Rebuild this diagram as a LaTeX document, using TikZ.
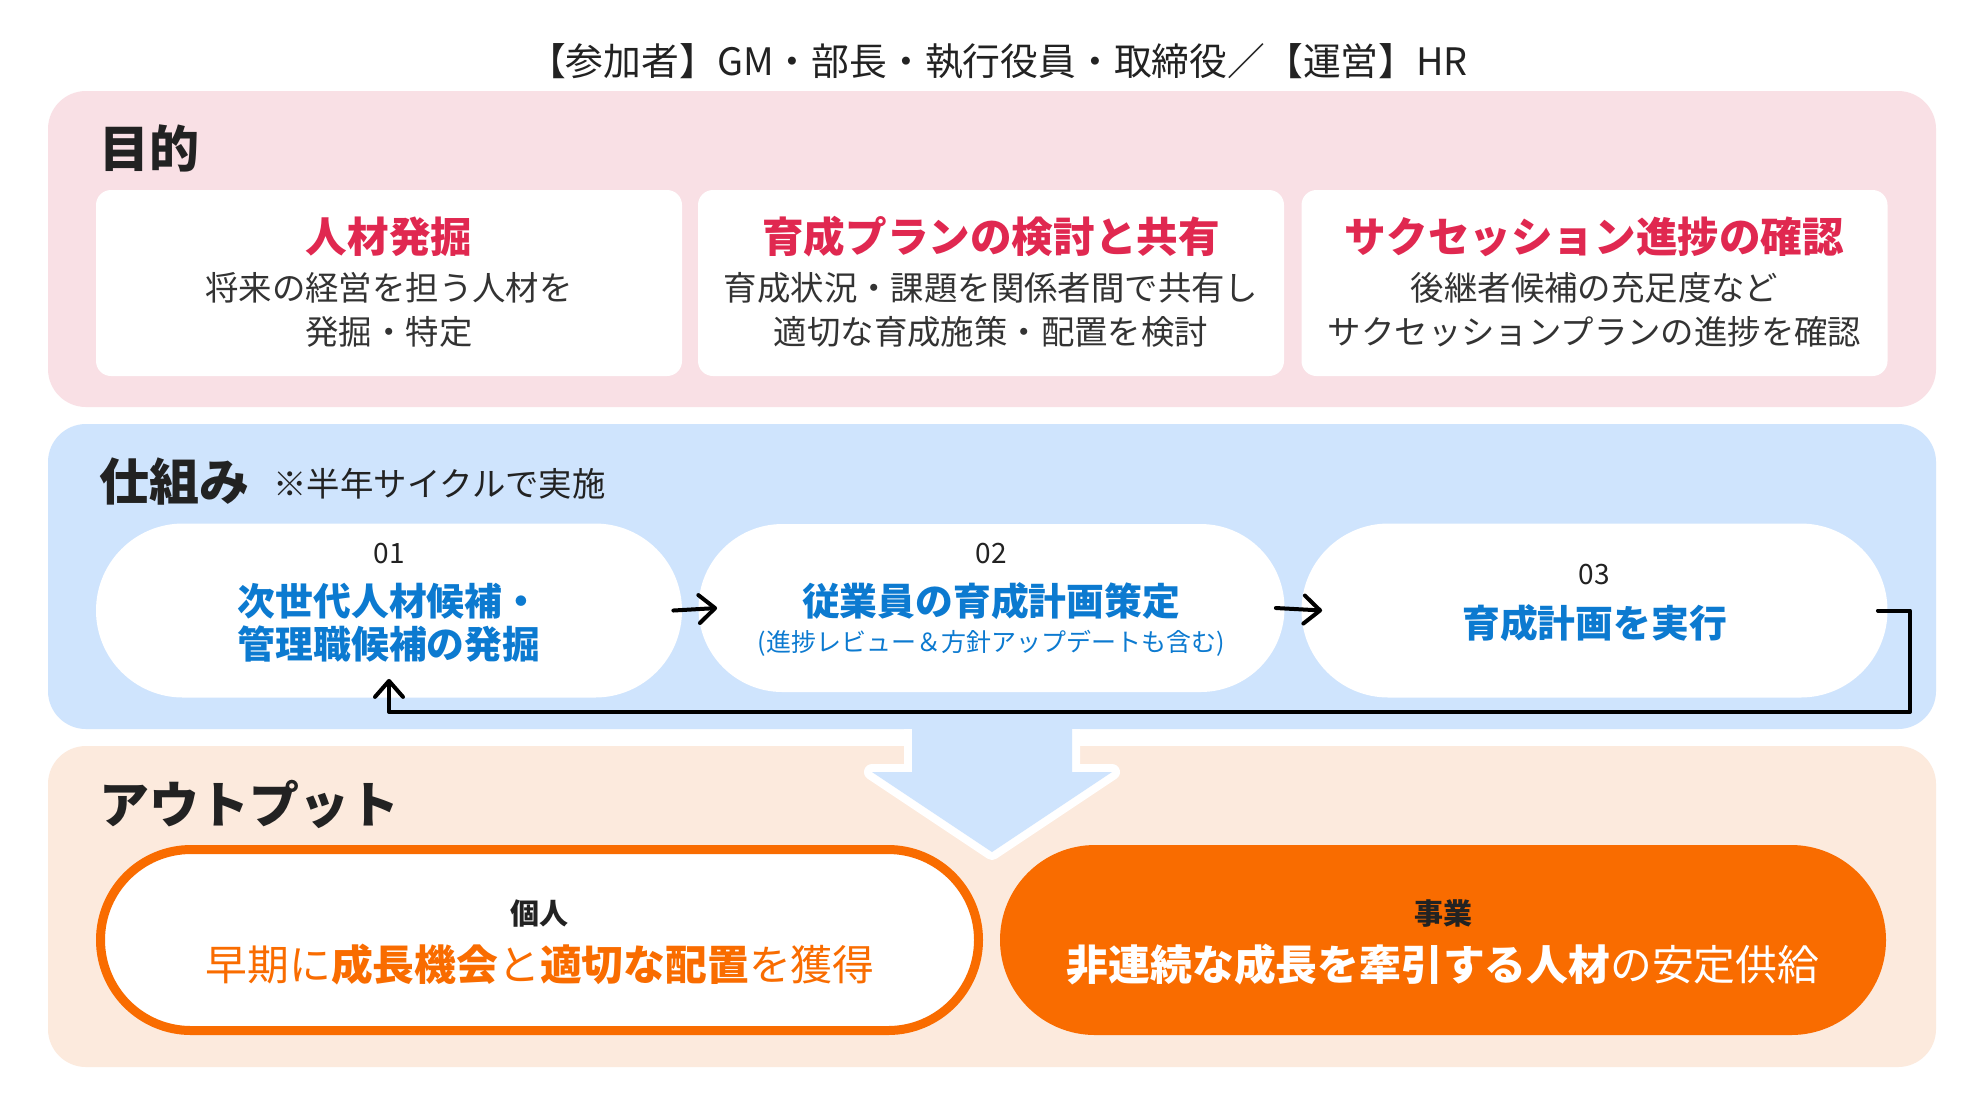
\documentclass[tikz,border=0pt]{standalone}
\usepackage{fontspec}
\setmainfont{Noto Sans CJK JP}
\usetikzlibrary{arrows.meta,shapes.misc}
\definecolor{pinkbg}{RGB}{249,224,229}
\definecolor{bluebg}{RGB}{207,228,253}
\definecolor{peachbg}{RGB}{252,234,221}
\definecolor{orangec}{RGB}{249,108,0}
\definecolor{crimson}{RGB}{224,40,80}
\definecolor{bluetxt}{RGB}{12,122,208}
\definecolor{darktxt}{RGB}{34,34,34}
\definecolor{graytxt}{RGB}{51,51,51}
\newcommand{\fsz}[2]{\fontsize{#1}{#2}\selectfont}
\begin{document}
\begin{tikzpicture}[x=0.5pt,y=-0.5pt,
  panel/.style={rounded corners=19pt},
  head/.style={anchor=west,inner sep=0pt,font=\fsz{25}{29}\bfseries,text=darktxt},
  wbox/.style={fill=white,rounded corners=7.5pt,minimum width=293pt,minimum height=93pt,inner sep=0pt},
  btitle/.style={font=\fsz{20.8}{24}\bfseries,text=crimson,inner sep=0pt},
  bbody/.style={font=\fsz{16.7}{22}\selectfont,text=graytxt,align=center,inner sep=0pt},
  stad/.style={rounded rectangle,fill=white,minimum width=293pt,minimum height=87pt,inner sep=0pt},
  num/.style={font=\fsz{14}{16}\selectfont,text=darktxt,inner sep=0pt},
  stepname/.style={font=\fsz{18.9}{21.5}\bfseries,text=bluetxt,align=center,inner sep=0pt},
  stepnote/.style={font=\fsz{12.5}{15}\selectfont,text=bluetxt,inner sep=0pt},
  arr/.style={draw=black,line width=2pt,line cap=round,line join=round,-{Straight Barb[length=8pt,width=14pt,round]}},
  outlab/.style={font=\fsz{14.5}{17}\bfseries,text=darktxt,inner sep=0pt},
  outtxt/.style={font=\fsz{20.9}{24}\selectfont,inner sep=0pt}
]
\useasboundingbox (0,0) rectangle (1984,1116);
\fill[white] (0,0) rectangle (1984,1116);

% title
\node[font=\fsz{18.9}{22}\selectfont,text=darktxt,inner sep=0pt] (title) at (998,61) {【参加者】GM・部長・執行役員・取締役／【運営】HR};

% panels
\fill[pinkbg,panel] (48,91) rectangle (1936,407);
\fill[bluebg,panel] (48,424) rectangle (1936,729);
\fill[peachbg,panel] (48,746) rectangle (1936,1067);

% purpose
\node[head] (hpurpose) at (99,148) {目的};
\node[wbox] (b1) at (389,283) {};
\node[wbox] (b2) at (991,283) {};
\node[wbox] (b3) at (1594.5,283) {};
\node[btitle] (b1t) at (389,237) {人材発掘};
\node[btitle] (b2t) at (991,237) {育成プランの検討と共有};
\node[btitle] (b3t) at (1594.5,237) {サクセッション進捗の確認};
\node[bbody] (b1b) at (389,310) {将来の経営を担う人材を\\発掘・特定};
\node[bbody] (b2b) at (991,310) {育成状況・課題を関係者間で共有し\\適切な育成施策・配置を検討};
\node[bbody] (b3b) at (1594.5,310) {後継者候補の充足度など\\サクセッションプランの進捗を確認};

% down arrow
\draw[white,line width=8pt,line join=round] (912,729) -- (912,772) -- (872,772) -- (992,852) -- (1112,772) -- (1072,772) -- (1072,729);
\fill[bluebg] (912,727) -- (912,772) -- (872,772) -- (992,852) -- (1112,772) -- (1072,772) -- (1072,727) -- cycle;

% mechanism
\node[head] (hmech) at (99,482) {仕組み};
\node[anchor=west,inner sep=0pt,font=\fsz{16.7}{20}\selectfont,text=darktxt] (hnote) at (273,484) {※半年サイクルで実施};
\node[stad] (n1) at (389,610.5) {};
\node[stad,minimum height=84pt] (n2) at (991.5,608) {};
\node[stad] (n3) at (1594.5,610.5) {};
\node[num] (n1n) at (389,553) {01};
\node[stepname] (n1t) at (389,622.5) {次世代人材候補・\\管理職候補の発掘};
\node[num] (n2n) at (991,553) {02};
\node[stepname] (n2t) at (991,601) {従業員の育成計画策定};
\node[stepnote] (n2s) at (991,643) {(進捗レビュー＆方針アップデートも含む)};
\node[num] (n3n) at (1594.5,574) {03};
\node[stepname] (n3t) at (1594.5,623) {育成計画を実行};

\draw[arr] ([xshift=-4.5pt]n1.east) -- ([xshift=9.5pt]n2.west);
\draw[arr] ([xshift=-4.5pt]n2.east) -- ([xshift=10.5pt]n3.west);
\coordinate (loopR) at (1910,712);
\draw[arr] ([xshift=-5pt]n3.east) -| (loopR) -| ([yshift=9.5pt]n1.south);

% output
\node[head] (hout) at (99,804) {アウトプット};
\node[rounded rectangle,draw=orangec,line width=4.5pt,fill=white,minimum width=439pt,minimum height=90.5pt,inner sep=0pt] (o1) at (539.5,940) {};
\node[rounded rectangle,fill=orangec,minimum width=443pt,minimum height=95pt,inner sep=0pt] (o2) at (1443,940) {};
\node[outlab] (o1l) at (539.5,913) {個人};
\node[outtxt,text=orangec] (o1t) at (540,965) {早期に{\bfseries 成長機会}と{\bfseries 適切な配置}を獲得};
\node[outlab] (o2l) at (1443,913) {事業};
\node[outtxt,text=white] (o2t) at (1443,965) {{\bfseries 非連続な成長を牽引する人材}の安定供給};
\end{tikzpicture}
\end{document}
